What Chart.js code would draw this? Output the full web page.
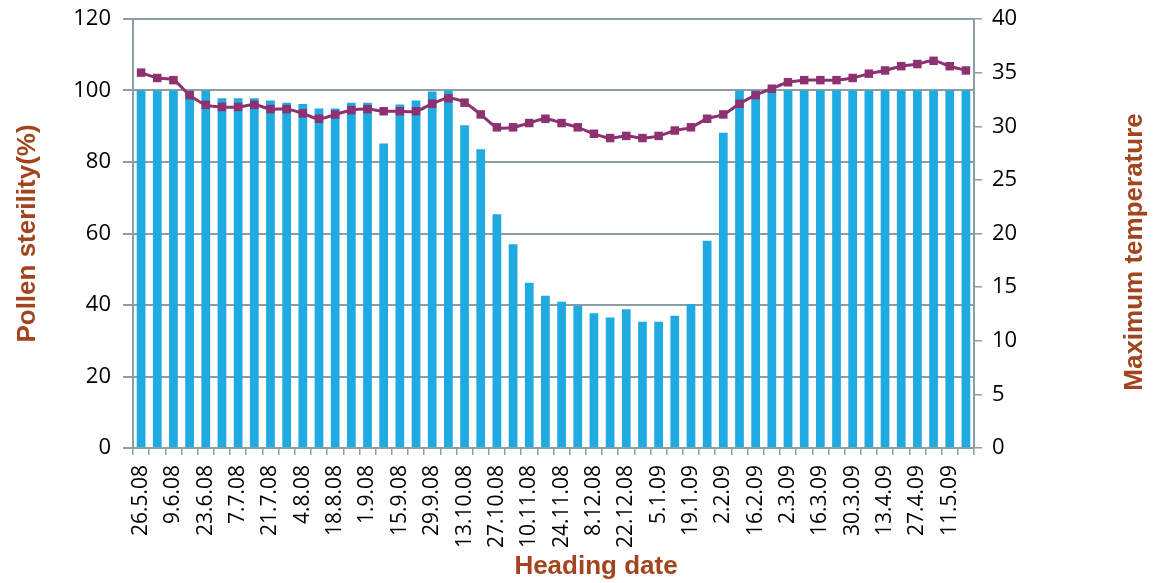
<!DOCTYPE html>
<html>
<head>
<meta charset="utf-8">
<title>Pollen sterility and maximum temperature</title>
<script src="https://cdn.jsdelivr.net/npm/chart.js@4.4.1/dist/chart.umd.min.js"></script>
<style>
    html, body { margin: 0; padding: 0; background: #fff; }
    #chart { display: block; }
</style>
</head>
<body>
<canvas id="chart" width="1156" height="583"></canvas>
<script>
// weekly heading dates, only every second one gets a label
const headingDates = [
    '26.5.08', '2.6.08', '9.6.08', '16.6.08', '23.6.08', '30.6.08', '7.7.08', '14.7.08',
    '21.7.08', '28.7.08', '4.8.08', '11.8.08', '18.8.08', '25.8.08', '1.9.08', '8.9.08',
    '15.9.08', '22.9.08', '29.9.08', '6.10.08', '13.10.08', '20.10.08', '27.10.08', '3.11.08',
    '10.11.08', '17.11.08', '24.11.08', '1.12.08', '8.12.08', '15.12.08', '22.12.08', '29.12.08',
    '5.1.09', '12.1.09', '19.1.09', '26.1.09', '2.2.09', '9.2.09', '16.2.09', '23.2.09',
    '2.3.09', '9.3.09', '16.3.09', '23.3.09', '30.3.09', '6.4.09', '13.4.09', '20.4.09',
    '27.4.09', '4.5.09', '11.5.09', '18.5.09'
];

const pollenSterility = [
    100, 100, 100, 100, 100, 97.8, 97.8, 97.8, 97.2, 96.6, 96.2, 95.0, 95.0, 96.6, 96.6, 85.2,
    96.1, 97.2, 99.7, 100, 90.3, 83.6, 65.4, 57.0, 46.2, 42.6, 40.9, 39.8, 37.7, 36.5, 38.8, 35.3,
    35.3, 37.0, 40.3, 58.0, 88.2, 100, 100, 100, 100, 100, 100, 100, 100, 100, 100, 100,
    100, 100, 100, 100
];

const maxTemperature = [
    35.0, 34.5, 34.3, 32.9, 32.0, 31.8, 31.8, 32.0, 31.6, 31.6, 31.2, 30.7, 31.1, 31.5, 31.6, 31.4,
    31.4, 31.4, 32.1, 32.6, 32.2, 31.1, 29.9, 29.9, 30.3, 30.7, 30.3, 29.9, 29.3, 28.9, 29.1, 28.9,
    29.1, 29.6, 29.9, 30.7, 31.1, 32.1, 32.9, 33.5, 34.1, 34.3, 34.3, 34.3, 34.5, 34.9, 35.2, 35.6,
    35.8, 36.1, 35.6, 35.2
];

const sterilityTicks = [0, 20, 40, 60, 80, 100, 120];
const temperatureTicks = [0, 5, 10, 15, 20, 25, 30, 35, 40];

const barColor = '#1FAAE1';
const lineColor = '#8D3170';
const titleColor = '#A2441D';
const axisColor = '#8C9DA6';

document.addEventListener("DOMContentLoaded", function() {
    const tickFont = { family: '"Open Sans", sans-serif', size: 22 };
    const dateFont = { family: '"Open Sans", sans-serif', size: 21 };
    const titleFont = { family: '"Liberation Sans", Arial, sans-serif', size: 26, weight: 'bold' };

    // titles that Chart.js cannot place the way the original does
    const extraTitles = {
        id: 'extraTitles',
        afterDraw(chart) {
            const ctx = chart.ctx;
            ctx.save();
            ctx.fillStyle = titleColor;
            ctx.font = 'bold 26px "Liberation Sans", Arial, sans-serif';
            ctx.textAlign = 'center';
            ctx.textBaseline = 'middle';
            ctx.fillText('Heading date', 596, 567);
            ctx.translate(1135, 252);
            ctx.rotate(-Math.PI / 2);
            ctx.fillText('Maximum temperature', 0, 0);
            ctx.restore();
        }
    };

    // fixed box sizes so the plot area lands where the original has it
    function fixWidth(width) {
        return function(scale) {
            scale.width = width;
            scale.paddingTop = 0;
            scale.paddingBottom = 0;
        };
    }

    new Chart(document.getElementById('chart').getContext('2d'), {
        type: 'bar',
        data: {
            labels: headingDates,
            datasets: [{
                type: 'line',
                label: 'Maximum temperature',
                data: maxTemperature,
                yAxisID: 'yTemp',
                borderColor: lineColor,
                backgroundColor: lineColor,
                borderWidth: 3,
                tension: 0.3,
                pointStyle: 'rect',
                pointRadius: 6,
                pointBorderWidth: 0,
                order: 0
            }, {
                label: 'Pollen sterility',
                data: pollenSterility,
                yAxisID: 'y',
                backgroundColor: barColor,
                barPercentage: 0.54,
                categoryPercentage: 1,
                order: 1
            }]
        },
        options: {
            responsive: false,
            animation: false,
            layout: { padding: { top: 19, left: 0, right: 0, bottom: 0 } },
            plugins: {
                legend: { display: false },
                tooltip: { enabled: false }
            },
            scales: {
                x: {
                    offset: true,
                    afterFit: function(scale) {
                        scale.height = 135;
                        scale.paddingLeft = 0;
                        scale.paddingRight = 0;
                    },
                    grid: {
                        offset: true,
                        drawOnChartArea: false,
                        tickLength: 7,
                        tickColor: axisColor,
                        lineWidth: 1.5
                    },
                    border: { color: axisColor, width: 2 },
                    ticks: {
                        autoSkip: false,
                        maxRotation: 90,
                        minRotation: 90,
                        padding: 10,
                        color: '#000',
                        font: dateFont,
                        callback: function(value, index) {
                            return index % 2 === 0 ? headingDates[index] : '';
                        }
                    }
                },
                y: {
                    position: 'left',
                    min: 0,
                    max: 120,
                    afterFit: fixWidth(133),
                    afterBuildTicks: function(scale) {
                        scale.ticks = sterilityTicks.map(v => ({ value: v }));
                    },
                    grid: {
                        color: axisColor,
                        lineWidth: 2,
                        tickLength: 10,
                        tickColor: axisColor
                    },
                    border: { color: axisColor, width: 2 },
                    ticks: { padding: 12, color: '#000', font: tickFont },
                    title: {
                        display: true,
                        text: 'Pollen sterility(%)',
                        color: titleColor,
                        font: titleFont,
                        padding: { top: 12, bottom: 0 }
                    }
                },
                yTemp: {
                    position: 'right',
                    min: 0,
                    max: 40,
                    afterFit: fixWidth(182),
                    afterBuildTicks: function(scale) {
                        scale.ticks = temperatureTicks.map(v => ({ value: v }));
                    },
                    grid: {
                        drawOnChartArea: false,
                        tickLength: 8,
                        tickColor: axisColor,
                        lineWidth: 1.5
                    },
                    border: { color: axisColor, width: 2 },
                    ticks: { padding: 10, color: '#000', font: tickFont }
                }
            }
        },
        plugins: [extraTitles]
    });
});
</script>
</body>
</html>
